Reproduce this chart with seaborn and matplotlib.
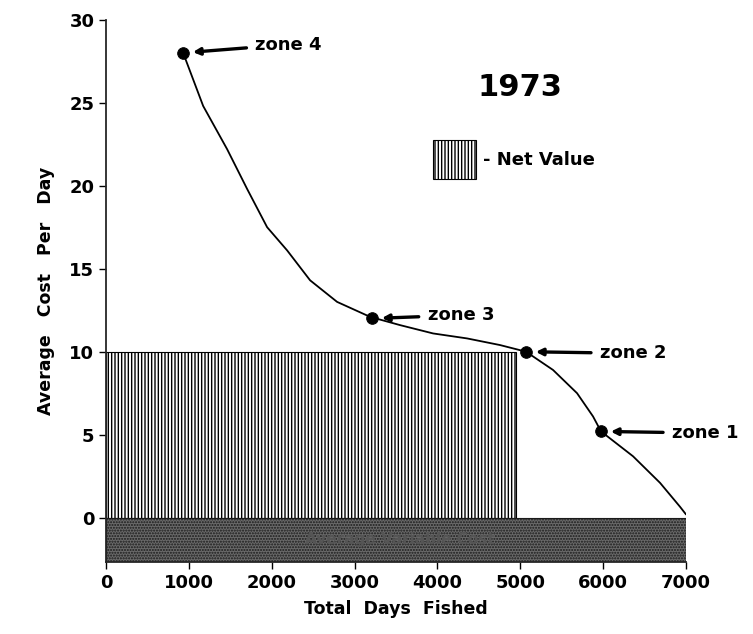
import matplotlib
matplotlib.use("Agg")
import matplotlib.pyplot as plt
import seaborn as sns
import pandas as pd

# curve (total days fished vs average cost per day)
curve_days = [929, 1171, 1460, 1702, 1943, 2185, 2462, 2788, 3186, 3549, 3947, 4357, 4755, 5069,
              5395, 5685, 5878, 5974, 6361, 6687, 6928, 7000]
curve_cost = [28.0, 24.8, 22.2, 19.8, 17.5, 16.1, 14.3, 13.0, 12.1, 11.6, 11.1, 10.8, 10.4, 10.0,
              8.9, 7.5, 6.1, 5.2, 3.7, 2.1, 0.66, 0.2]

zone_names = ["zone 4", "zone 3", "zone 2", "zone 1"]
zone_days = [929, 3210, 5069, 5974]
zone_cost = [28.0, 12.0, 10.0, 5.2]
label_days = [1800, 3880, 5960, 6830]
label_cost = [28.5, 12.2, 9.9, 5.1]

net_value_days = 4950
net_value_cost = 10.0
variable_cost_days = 7000
y_bottom = -2.65

sns.set_theme(style="ticks")
plt.rcParams["font.family"] = ["DejaVu Sans"]
plt.rcParams.update({"text.color": "black", "axes.labelcolor": "black",
                     "xtick.color": "black", "ytick.color": "black"})

fig = plt.figure(figsize=(7.53, 6.34), dpi=100)
ax = fig.add_axes([0.141, 0.114, 0.770, 0.855])

# net value block (hatched) and variable cost band (stippled)
net = ax.bar(0, net_value_cost, width=net_value_days, align="edge", facecolor="white",
             edgecolor="black", hatch="|||||", linewidth=0.8, zorder=1)
ax.bar(0, -y_bottom, bottom=y_bottom, width=variable_cost_days, align="edge",
       facecolor="#6a6a6a", edgecolor="#1a1a1a", hatch="......", linewidth=0.8, zorder=1)
ax.text(3550, -1.3, "Average Variable Cost", ha="center", va="center",
        fontsize=11, fontweight="bold", color="#555555", zorder=2)

df = pd.DataFrame({"days": curve_days, "cost": curve_cost})
sns.lineplot(data=df, x="days", y="cost", color="black", linewidth=1.3, ax=ax, zorder=3)
zones = pd.DataFrame({"days": zone_days, "cost": zone_cost})
sns.scatterplot(data=zones, x="days", y="cost", color="black", s=70, edgecolor="black", ax=ax, zorder=4)

for name, xd, yd, xt, yt in zip(zone_names, zone_days, zone_cost, label_days, label_cost):
    ax.annotate(name, xy=(xd, yd), xytext=(xt, yt), ha="left", va="center",
                fontsize=13, fontweight="bold", annotation_clip=False,
                arrowprops=dict(arrowstyle="-|>", color="black", lw=2.4, shrinkA=4, shrinkB=7,
                                mutation_scale=10))

ax.text(5000, 25.9, "1973", ha="center", va="center", fontsize=22, fontweight="bold")
ax.legend(handles=[net], labels=["- Net Value"], loc="center left", bbox_to_anchor=(0.535, 0.742),
          frameon=False, handlelength=2.4, handleheight=3.0, handletextpad=0.4,
          prop={"size": 13, "weight": "bold"})

ax.set_xlim(0, 7000)
ax.set_ylim(y_bottom, 30)
ax.set_xticks(range(0, 7001, 1000))
ax.set_yticks(range(0, 31, 5))
ax.tick_params(labelsize=13, width=1, length=5)
for lbl in ax.get_xticklabels() + ax.get_yticklabels():
    lbl.set_fontweight("bold")
ax.set_xlabel("Total  Days  Fished", fontsize=12.5, fontweight="bold", labelpad=6)
ax.set_ylabel("Average   Cost   Per   Day", fontsize=12.5, fontweight="bold", labelpad=10)
sns.despine(ax=ax)
ax.spines["left"].set_linewidth(1.3)
ax.spines["bottom"].set_linewidth(1.3)

fig.savefig("out.png", dpi=100)
